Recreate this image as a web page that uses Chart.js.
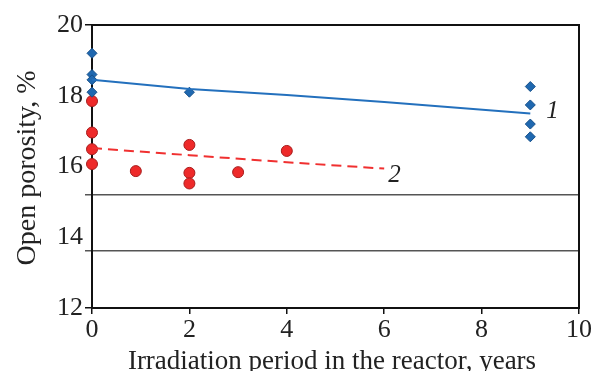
<!DOCTYPE html>
<html>
<head>
<meta charset="utf-8">
<script src="https://cdn.jsdelivr.net/npm/chart.js@4"></script>
<style>
  html, body { margin: 0; padding: 0; background: #fff; }
  #wrap { width: 593px; height: 371px; }
</style>
</head>
<body>
<div id="wrap"><canvas id="chart"></canvas></div>
<script>
// axes
const xTicks = [0, 2, 4, 6, 8, 10]
const yTicks = [12, 14, 16, 18, 20]
const gridLevels = [13.61, 15.21]

// series 1: measured porosity and its trend
const s1Years = [0, 0, 0, 0, 2, 9, 9, 9, 9]
const s1Porosity = [19.2, 18.6, 18.45, 18.1, 18.1, 18.26, 17.74, 17.2, 16.84]
const t1Years = [0, 2, 4, 6, 9]
const t1Porosity = [18.45, 18.19, 18.02, 17.82, 17.5]

// series 2: measured porosity and its trend
const s2Years = [0, 0, 0, 0, 0.9, 2, 2, 2, 3, 4]
const s2Porosity = [17.85, 16.96, 16.49, 16.07, 15.87, 16.61, 15.82, 15.52, 15.84, 16.44]
const t2Years = [0, 2, 4, 6]
const t2Porosity = [16.52, 16.32, 16.12, 15.94]

const seriesNames = ["1", "2"]
const xTitle = "Irradiation period in the reactor, years"
const yTitle = "Open porosity, %"

const serif = "'Liberation Serif', 'Times New Roman', serif"
const blue = "#2370bd"
const red = "#f03030"

const pts = (xs, ys) => xs.map((x, i) => ({ x, y: ys[i] }))

// box around the plot, drawn under the markers
const frame = {
  id: "frame",
  beforeDatasetsDraw(chart) {
    const { ctx, chartArea: a } = chart
    ctx.save()
    ctx.strokeStyle = "#111"
    ctx.lineWidth = 2
    ctx.strokeRect(a.left, a.top, a.right - a.left, a.bottom - a.top)
    ctx.restore()
  },
}

// axis titles and the curve numbers
const labels = {
  id: "labels",
  afterDraw(chart) {
    const { ctx, scales: { x, y } } = chart
    ctx.save()
    ctx.fillStyle = "#222"
    ctx.font = "27px " + serif
    ctx.textAlign = "center"
    ctx.textBaseline = "alphabetic"
    ctx.fillText(xTitle, 332, 369)
    ctx.font = "28px " + serif
    ctx.translate(35, 168)
    ctx.rotate(-Math.PI / 2)
    ctx.fillText(yTitle, 0, 0)
    ctx.restore()

    ctx.save()
    ctx.fillStyle = "#222"
    ctx.font = "italic 25px " + serif
    ctx.textAlign = "left"
    ctx.textBaseline = "middle"
    const e1 = t1Years.length - 1
    ctx.fillText(seriesNames[0], x.getPixelForValue(t1Years[e1]) + 16, y.getPixelForValue(t1Porosity[e1]) - 2)
    const e2 = t2Years.length - 1
    ctx.fillText(seriesNames[1], x.getPixelForValue(t2Years[e2]) + 4, y.getPixelForValue(t2Porosity[e2]) + 7)
    ctx.restore()
  },
}

new Chart(document.getElementById("chart"), {
  type: "scatter",
  data: {
    datasets: [
      {
        data: pts(t1Years, t1Porosity),
        showLine: true,
        borderColor: blue,
        borderWidth: 2,
        pointRadius: 0,
        clip: false,
      },
      {
        data: pts(t2Years, t2Porosity),
        showLine: true,
        borderColor: red,
        borderWidth: 2,
        borderDash: [10, 6],
        pointRadius: 0,
        clip: false,
      },
      {
        data: pts(s1Years, s1Porosity),
        pointStyle: "rectRot",
        pointRadius: 5,
        backgroundColor: "#1f68b0",
        borderColor: "#16508a",
        borderWidth: 1,
        clip: false,
      },
      {
        data: pts(s2Years, s2Porosity),
        pointStyle: "circle",
        pointRadius: 5.5,
        backgroundColor: "#ee2a2a",
        borderColor: "#a81c1c",
        borderWidth: 1,
        clip: false,
      },
    ],
  },
  options: {
    animation: false,
    responsive: true,
    maintainAspectRatio: false,
    layout: { padding: { top: 25, right: 13, left: 0, bottom: 0 } },
    plugins: {
      legend: { display: false },
      tooltip: { enabled: false },
    },
    scales: {
      x: {
        type: "linear",
        min: xTicks[0],
        max: xTicks[xTicks.length - 1],
        afterFit: (s) => { s.height = 63 },
        afterBuildTicks: (s) => { s.ticks = xTicks.map((v) => ({ value: v })) },
        border: { display: false },
        grid: { drawOnChartArea: false, drawTicks: true, tickLength: 6, tickColor: "#111", lineWidth: 1.5 },
        ticks: { color: "#222", padding: 1, font: { family: serif, size: 26 } },
      },
      y: {
        type: "linear",
        min: yTicks[0],
        max: yTicks[yTicks.length - 1],
        afterFit: (s) => { s.width = 92 },
        afterBuildTicks: (s) => {
          s.ticks = [...yTicks, ...gridLevels].sort((a, b) => a - b).map((v) => ({ value: v }))
        },
        border: { display: false },
        grid: {
          drawTicks: true,
          tickLength: 7,
          lineWidth: 1.5,
          color: (c) => (gridLevels.includes(c.tick.value) ? "#555" : "rgba(0,0,0,0)"),
          tickColor: (c) => {
            const v = c.tick.value
            if (gridLevels.includes(v)) return "#555"
            if (v === yTicks[0] || v === yTicks[yTicks.length - 1]) return "#111"
            return "rgba(0,0,0,0)"
          },
        },
        ticks: {
          color: "#222",
          padding: 2,
          font: { family: serif, size: 26 },
          callback: (v) => (yTicks.includes(v) ? String(v) : ""),
        },
      },
    },
  },
  plugins: [frame, labels],
})
</script>
</body>
</html>
